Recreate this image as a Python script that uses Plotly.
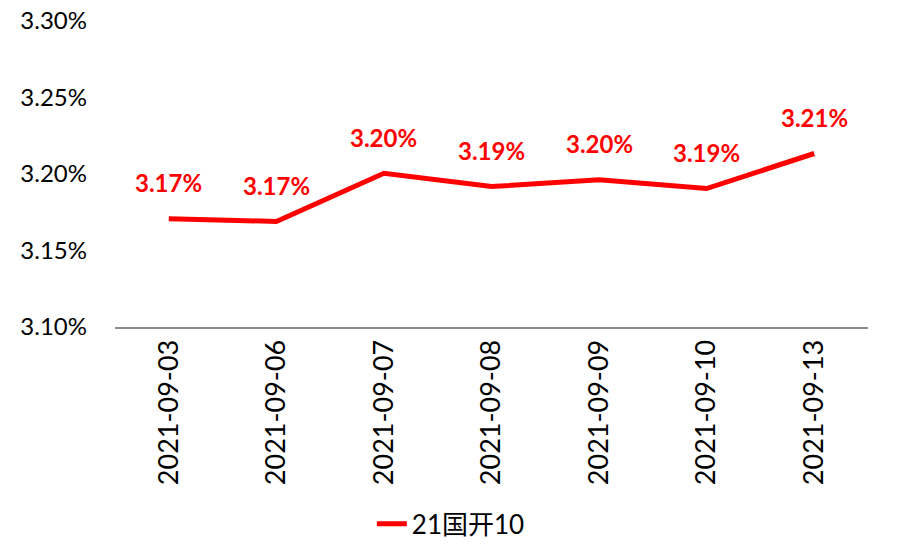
import plotly.graph_objects as go

dates = ["2021-09-03", "2021-09-06", "2021-09-07", "2021-09-08", "2021-09-09", "2021-09-10", "2021-09-13"]
yields = [3.1708, 3.1690, 3.2005, 3.1918, 3.1962, 3.1905, 3.2134]
series_name = "21国开10"
y_ticks = [3.10, 3.15, 3.20, 3.25, 3.30]
y_tick_labels = ["3.10%", "3.15%", "3.20%", "3.25%", "3.30%"]

FONT = "Lato, 'Noto Sans CJK SC', sans-serif"

fig = go.Figure()
fig.add_trace(go.Scatter(
    x=dates, y=yields, mode="lines", name=series_name,
    line=dict(color="#FF0000", width=5),
))

for d, v in zip(dates, yields):
    fig.add_annotation(
        x=d, y=v, text=f"{v:.2f}%", showarrow=False, yshift=36,
        font=dict(family=FONT, size=24, color="#FF0000", weight="bold"),
    )

fig.update_layout(
    width=916, height=549,
    margin=dict(l=115, r=48, t=21, b=222, autoexpand=False),
    paper_bgcolor="white", plot_bgcolor="white",
    font=dict(family=FONT, size=24, color="#000000"),
    showlegend=True,
    legend=dict(orientation="h", x=0.446, xanchor="center", y=-0.643, yanchor="middle",
                font=dict(family=FONT, size=26)),
    xaxis=dict(type="category", showgrid=False, showline=True, linecolor="#8C8C8C",
               linewidth=2, tickangle=-90, ticks="", tickfont=dict(size=27),
               range=[-0.5, 6.5]),
    yaxis=dict(range=[3.10, 3.30], tickvals=y_ticks, ticktext=y_tick_labels,
               showgrid=False, zeroline=False, showline=False, ticks="",
               tickfont=dict(size=24), ticklabelstandoff=27),
)

fig.write_html("out.html")
